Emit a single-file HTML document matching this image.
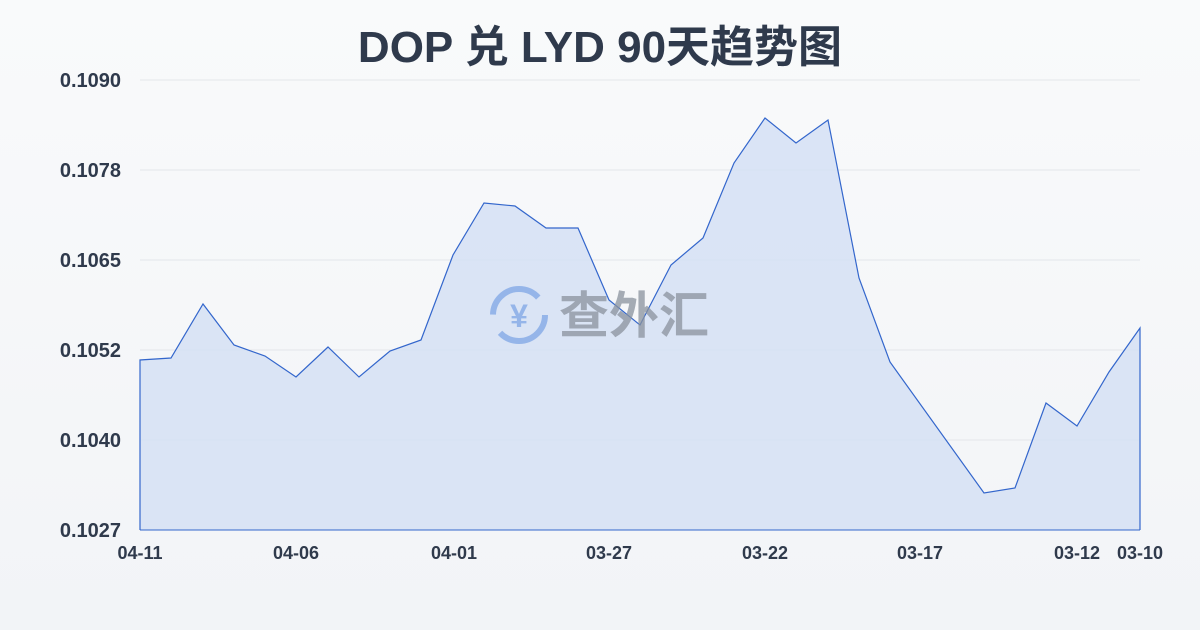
<!DOCTYPE html>
<html><head><meta charset="utf-8"><style>
body{margin:0;width:1200px;height:630px;background:linear-gradient(#f9fafb,#f2f4f7);font-family:"Liberation Sans","Noto Sans CJK SC",sans-serif;overflow:hidden}
</style></head><body>
<svg width="1200" height="630" xmlns="http://www.w3.org/2000/svg" style="position:absolute;left:0;top:0">
<text x="600" y="62" text-anchor="middle" font-size="44" font-weight="bold" fill="#2f3a4c" font-family="Liberation Sans,Noto Sans CJK SC,sans-serif">DOP 兑 LYD 90天趋势图</text>
<g stroke="#e3e6ea" stroke-width="1">
<line x1="140" y1="80" x2="1140" y2="80"/><line x1="140" y1="170" x2="1140" y2="170"/><line x1="140" y1="260" x2="1140" y2="260"/><line x1="140" y1="350" x2="1140" y2="350"/><line x1="140" y1="440" x2="1140" y2="440"/>
</g>
<g font-size="20" font-weight="bold" fill="#2f3a4c" text-anchor="end">
<text x="121" y="87">0.1090</text><text x="121" y="177">0.1078</text><text x="121" y="267">0.1065</text><text x="121" y="357">0.1052</text><text x="121" y="447">0.1040</text><text x="121" y="537">0.1027</text>
</g>
<path d="M140,360 L171,358 L203,304 L234,345 L265,356 L296,377 L328,347 L359,377 L390,351 L421,340 L453,255 L484,203 L515,206 L546,228 L578,228 L609,300 L640,325 L671,265 L703,238 L734,163 L765,118 L796,143 L828,120 L859,278 L890,362 L984,493 L1015,488 L1046,403 L1077,426 L1109,372 L1140,328 L1140,530 L140,530 Z" fill="#d5e0f5" fill-opacity="0.85" stroke="none"/>
<path d="M140,530 L140,360 L171,358 L203,304 L234,345 L265,356 L296,377 L328,347 L359,377 L390,351 L421,340 L453,255 L484,203 L515,206 L546,228 L578,228 L609,300 L640,325 L671,265 L703,238 L734,163 L765,118 L796,143 L828,120 L859,278 L890,362 L984,493 L1015,488 L1046,403 L1077,426 L1109,372 L1140,328 L1140,530" fill="none" stroke="#3366cc" stroke-width="1.2"/>
<line x1="140" y1="530" x2="1140" y2="530" stroke="#3366cc" stroke-width="1"/>
<g font-size="18" font-weight="bold" fill="#2f3a4c" text-anchor="middle">
<text x="140" y="559">04-11</text><text x="296" y="559">04-06</text><text x="454" y="559">04-01</text><text x="609" y="559">03-27</text><text x="765" y="559">03-22</text><text x="920" y="559">03-17</text><text x="1077" y="559">03-12</text><text x="1140" y="559">03-10</text>
</g>
<g opacity="0.75">
<circle cx="519" cy="315" r="26" fill="none" stroke="#7ea6e6" stroke-width="6" stroke-dasharray="62 20"/>
<text x="519" y="327" text-anchor="middle" font-size="32" font-weight="bold" fill="#7ea6e6">¥</text>
<text x="559" y="333" font-size="50" font-weight="bold" fill="#8a929e" font-family="Noto Sans CJK SC,sans-serif">查外汇</text>
</g>
</svg>
</body></html>
